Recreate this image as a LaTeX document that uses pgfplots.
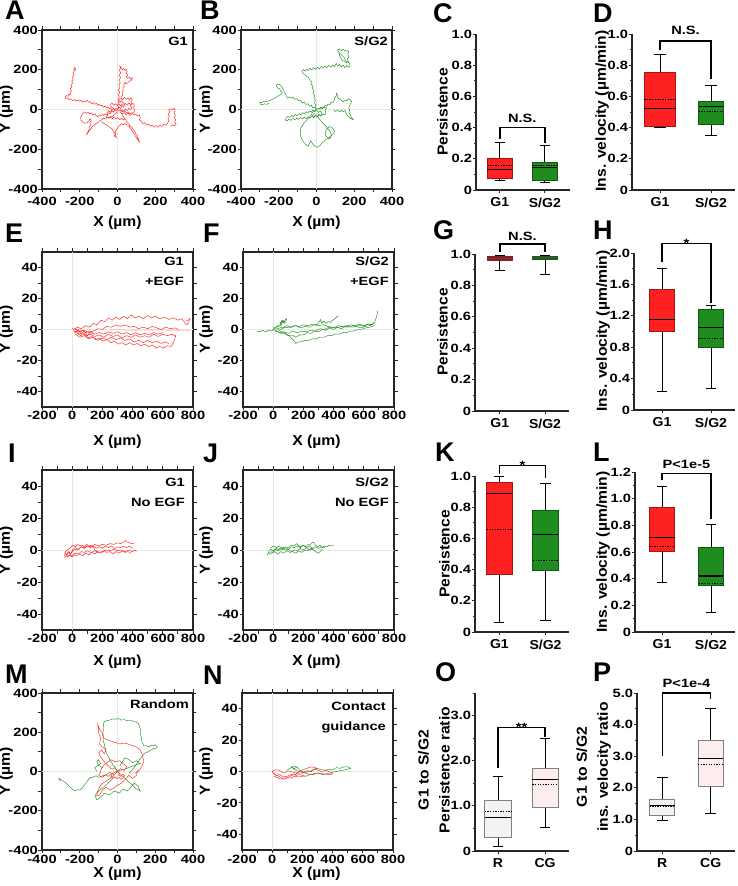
\documentclass[border=0pt]{standalone}
\usepackage{fontspec}
\setmainfont{Liberation Sans}
\newfontfamily\tf[FakeStretch=1.22]{Liberation Sans}
\newfontfamily\lf[FakeStretch=1.08]{Liberation Sans}
\usepackage{pgfplots}
\pgfplotsset{compat=1.18}
\usepgfplotslibrary{statistics}
\definecolor{tr}{HTML}{FF2020}
\definecolor{tg}{HTML}{1E8E1E}
\definecolor{br}{HTML}{FF2020}
\definecolor{brd}{HTML}{A01515}
\definecolor{bg}{HTML}{1E8C1E}
\definecolor{bgd}{HTML}{0E5A0E}
\definecolor{gdr}{HTML}{8E1A1A}
\definecolor{gdg}{HTML}{155E15}
\definecolor{rf}{HTML}{F3F3F3}
\definecolor{cf}{HTML}{FDEDEE}
\definecolor{ob}{HTML}{808080}
\definecolor{ax}{HTML}{262626}
\newcommand\tk{\tf\bfseries\fontsize{12}{13}\selectfont}
\newcommand\lb{\lf\bfseries\fontsize{14.5}{21}\selectfont}
\newcommand\cat{\lf\bfseries\fontsize{13}{14}\selectfont}
\newcommand\an{\tf\bfseries\fontsize{12}{20}\selectfont}
\newcommand\pl{\bfseries\fontsize{27}{28}\selectfont}
\pgfplotsset{
  traj/.style={scale only axis, width=151pt, clip=true,
    axis line style={ax, line width=1.4pt},
    tick align=outside, tick pos=both,
    tick style={ax, line width=0.9pt},
    major tick length=3.5pt, minor tick length=3.5pt,
    xticklabel pos=lower, yticklabel pos=left,
    tick label style={font=\tk},
    yticklabel style={inner sep=0.5pt},
    xticklabel style={inner sep=0pt, anchor=north},
    every axis plot/.append style={line width=0.45pt},
  },
  big/.style={traj, xmin=-400,xmax=400,ymin=-400,ymax=400,
    xtick={-400,-200,0,200,400}, xticklabels={-400,-200,0,200,400},
    minor xtick={-300,-100,100,300},
    ytick={-400,-200,0,200,400}, yticklabels={-400,-200,0,200,400},
    minor ytick={-300,-100,100,300}},
  flat/.style={traj, xmin=-200,xmax=800,ymin=-50,ymax=50,
    xtick={-200,0,200,400,600,800}, xticklabels={-200,0,200,400,600,800},
    minor xtick={-100,100,300,500,700},
    ytick={-40,-20,0,20,40}, yticklabels={-40,-20,0,20,40},
    minor ytick={-30,-10,10,30}},
  bx/.style={scale only axis, clip=false,
    axis x line=bottom, axis y line=left,
    axis line style={ax, line width=1.3pt, -},
    ymin=0, xtick={1,2},
    xtick style={ax, line width=0.9pt},
    ytick style={ax, line width=0.9pt},
    tick align=outside, major tick length=3.5pt, minor tick length=2.2pt,
    xticklabel style={font=\cat, inner sep=0pt, anchor=north, yshift=-4pt},
    yticklabel style={font=\tk, inner sep=0.3pt},
    boxplot/draw direction=y,
    boxplot/every median/.style={black, line width=1.1pt},
    boxplot/every whisker/.style={black, line width=0.9pt},
  },
}
\begin{document}
\begin{tikzpicture}[x=1pt,y=1pt]
\useasboundingbox (0,0) rectangle (737,886);

% ---------------- A ----------------
\begin{axis}[big, at={(42pt,856pt)}, anchor=north west, height=159pt, xticklabel style={yshift=-4pt}]
\addplot[gray!18, line width=0.8pt] coordinates {(-400,0)(400,0)};
\addplot[gray!18, line width=0.8pt] coordinates {(0,-400)(0,400)};
\addplot[tr] coordinates {(0,0) (-8,6) (-14,-3) (-22,5) (-30,-2) (-36,9) (-44,4) (-50,14) (-58,8) (-66,17) (-74,11) (-80,22) (-90,18) (-97,27) (-105,20) (-112,31) (-121,26) (-128,35) (-137,29) (-145,40) (-152,36) (-160,46) (-168,39) (-176,44) (-185,37) (-193,46) (-201,41) (-210,48) (-219,42) (-228,50) (-238,45) (-247,54) (-256,49) (-264,58) (-273,55) (-278,64) (-270,70) (-262,66) (-258,78) (-252,74) (-249,88) (-244,95) (-250,104) (-242,113) (-246,124) (-238,132) (-242,143) (-235,152) (-239,163) (-232,172) (-236,183) (-229,192) (-232,203) (-226,212) (-222,200) (-228,196)};
\addplot[tr] coordinates {(0,0) (-7,-8) (-15,-4) (-22,-14) (-31,-10) (-38,-21) (-47,-17) (-55,-27) (-64,-22) (-72,-30) (-80,-24) (-88,-33) (-97,-27) (-105,-36) (-113,-30) (-121,-22) (-130,-28) (-138,-17) (-147,-23) (-156,-14) (-165,-20) (-174,-12) (-183,-19) (-190,-30) (-196,-42) (-192,-55) (-184,-64) (-173,-70) (-161,-66) (-152,-57) (-145,-46) (-139,-55) (-147,-66) (-142,-78) (-151,-88) (-146,-99) (-155,-108) (-160,-120) (-165,-128) (-156,-117) (-150,-106) (-141,-98) (-133,-86) (-124,-80) (-114,-71) (-104,-66) (-95,-57) (-84,-52) (-75,-44) (-64,-48) (-55,-38) (-44,-43) (-35,-33) (-25,-36) (-16,-25) (-8,-19) (2,-10)};
\addplot[tr] coordinates {(0,0) (9,12) (16,4) (24,19) (33,11) (39,27) (29,34) (21,44) (13,36) (6,47) (18,55) (28,49) (37,60) (46,51) (55,58) (64,47) (71,59) (78,48) (70,37) (77,27) (68,18) (78,9) (70,-1) (60,6) (52,-5) (42,2) (34,-8) (24,-2) (16,-13) (26,-22) (36,-16) (46,-27) (57,-19) (66,-30) (76,-22) (86,-13) (92,-2) (85,10) (90,22) (81,31) (72,24) (61,32) (52,22) (43,30) (34,20) (25,28) (16,19) (7,27) (-3,20) (-12,29) (-21,22) (-29,33) (-37,26) (-33,14) (-23,7) (-14,-2) (-22,-11) (-31,-4) (-40,-14) (-48,-6) (-56,-17) (-51,-28) (-59,-37) (-48,-44) (-38,-37) (-28,-46) (-18,-39) (-8,-48) (2,-41) (12,-52) (22,-44) (32,-53) (40,-43)};
\addplot[tr] coordinates {(0,0) (6,12) (1,24) (8,36) (2,49) (10,61) (4,73) (12,86) (5,98) (13,110) (7,123) (15,136) (8,148) (16,160) (9,172) (17,185) (10,197) (16,208) (12,218) (20,210) (26,199) (33,206) (40,196) (46,203) (51,192) (46,182) (54,174) (47,165) (56,157) (64,163) (71,154) (79,159) (74,148) (64,143) (55,136) (47,128) (40,137) (33,126) (36,114) (28,106) (31,94) (24,85) (27,72) (19,64) (22,52)};
\addplot[tr] coordinates {(0,0) (10,-7) (19,-2) (28,-12) (38,-7) (47,-17) (57,-12) (66,-22) (76,-17) (86,-27) (96,-22) (106,-33) (115,-28) (121,-41) (116,-52) (126,-60) (134,-71) (145,-66) (154,-79) (164,-73) (174,-84) (185,-78) (195,-89) (205,-81) (215,-90) (225,-78) (236,-85) (246,-73) (257,-80) (265,-68) (272,-57) (267,-45) (275,-35) (269,-23) (277,-12) (272,-2) (283,4) (293,-1) (301,6) (306,-6) (299,-17) (307,-28) (301,-40) (309,-52) (303,-64) (311,-74) (300,-82) (290,-77) (281,-86)};
\addplot[tr] coordinates {(20,-20) (28,-31) (35,-43) (44,-52) (50,-64) (60,-71) (66,-83) (77,-90) (83,-102) (92,-110) (97,-122) (106,-130) (103,-142) (112,-149) (109,-158) (116,-163) (104,-147) (96,-135) (88,-121) (79,-109) (70,-96) (61,-85) (51,-77) (41,-70) (31,-77) (21,-71) (11,-82) (2,-91) (-6,-102) (-13,-114) (-9,-125) (-17,-133) (-6,-140) (-14,-123) (-22,-108) (-31,-96) (-42,-89) (-52,-80) (-63,-75) (-74,-69) (-85,-62)};
\node[anchor=north east, align=right, font=\an, inner sep=0pt] at (rel axis cs:1,1) [xshift=-5pt, yshift=-7pt] {G1};
\end{axis}

% ---------------- B ----------------
\begin{axis}[big, at={(241pt,856pt)}, anchor=north west, height=159pt, xticklabel style={yshift=-4pt}]
\addplot[gray!18, line width=0.8pt] coordinates {(-400,0)(400,0)};
\addplot[gray!18, line width=0.8pt] coordinates {(0,-400)(0,400)};
\addplot[tg] coordinates {(0,0) (-7,11) (-2,23) (-11,34) (-6,47) (-14,58) (-9,71) (-18,82) (-13,95) (-23,106) (-19,118) (-30,128) (-26,140) (-37,150) (-42,161) (-53,166) (-61,176) (-72,181) (-77,192) (-68,201) (-61,193) (-52,204) (-43,197) (-34,207) (-25,199) (-15,210) (-5,202) (5,213) (15,205) (25,216) (35,208) (45,219) (55,210) (65,221) (75,213) (86,224) (96,215) (104,232) (112,220) (123,227) (131,214) (141,223) (150,211) (160,221) (169,213) (178,219) (174,233) (163,240) (152,248) (146,262) (136,271) (127,280) (118,288) (112,299) (122,304) (132,296) (141,303) (151,294) (160,299) (170,290) (166,277) (172,264) (163,253) (170,243) (158,236) (146,242) (134,250) (127,262) (121,274) (126,286)};
\addplot[tg] coordinates {(0,0) (-9,12) (-19,8) (-27,21) (-37,16) (-46,29) (-56,25) (-65,38) (-75,33) (-84,46) (-95,42) (-104,55) (-114,51) (-124,62) (-134,57) (-144,64) (-152,56) (-160,68) (-166,80) (-172,92) (-177,104) (-185,114) (-192,124) (-203,127) (-213,121) (-208,110) (-197,104) (-188,94) (-181,83) (-190,74) (-201,70) (-212,62) (-224,57) (-235,51) (-246,45) (-257,43) (-268,39) (-279,41) (-290,35) (-301,37) (-298,27) (-287,24) (-275,29) (-263,26) (-252,31)};
\addplot[tg] coordinates {(0,0) (10,6) (19,2) (28,13) (37,9) (45,21) (54,16) (61,28) (70,24) (77,36) (86,33) (93,46) (98,58) (104,70) (107,82) (111,69) (114,57) (124,53) (133,45) (142,38) (151,47) (161,44) (170,54) (178,48) (186,41) (181,30) (176,19) (171,8) (176,-3) (172,-14) (179,-25) (183,-36) (190,-45) (196,-52) (185,-47) (173,-40) (164,-29) (156,-17) (150,-5) (141,-11) (131,-4) (122,-12) (112,-3) (102,-10) (92,-3)};
\addplot[tg] coordinates {(0,0) (-8,-11) (-16,-7) (-24,-20) (-31,-30) (-40,-42) (-50,-50) (-58,-61) (-68,-70) (-75,-82) (-83,-93) (-86,-106) (-82,-118) (-86,-131) (-79,-143) (-75,-156) (-66,-167) (-55,-177) (-45,-185) (-38,-171) (-31,-157) (-25,-166) (-17,-178) (-6,-186) (5,-190) (17,-183) (26,-172) (37,-163) (47,-153) (58,-146) (70,-139) (81,-130) (91,-121) (96,-110) (89,-99) (80,-90) (69,-86) (59,-94) (50,-104) (46,-117) (49,-130) (57,-142) (67,-149) (75,-139) (78,-127) (74,-114) (66,-103) (56,-92) (47,-81) (37,-72) (28,-63) (20,-53) (11,-44) (3,-33)};
\addplot[tg] coordinates {(0,0) (-9,-9) (-18,-3) (-27,-13) (-37,-7) (-46,-17) (-55,-11) (-64,-22) (-74,-16) (-83,-27) (-93,-21) (-103,-31) (-113,-25) (-122,-36) (-132,-30) (-142,-40) (-152,-34) (-161,-44) (-166,-53) (-155,-57) (-145,-48) (-135,-55) (-125,-45) (-115,-52) (-105,-43) (-95,-50) (-85,-40) (-75,-48) (-65,-38) (-55,-46) (-45,-36) (-35,-44) (-25,-33) (-15,-41) (-5,-30) (5,-37) (15,-27) (25,-34) (35,-22) (44,-28) (50,-16) (45,-5) (52,6) (42,12) (32,4) (22,11) (12,2)};
\addplot[tg] coordinates {(0,0) (10,-15) (20,-8) (30,-20) (22,-30) (12,-25) (5,-38) (-5,-28) (-15,-42) (-22,-30) (-10,-20)};
\node[anchor=north east, align=right, font=\an, inner sep=0pt] at (rel axis cs:1,1) [xshift=-4pt, yshift=-7pt] {S/G2};
\end{axis}

% ---------------- E ----------------
\begin{axis}[flat, at={(42pt,634pt)}, anchor=north west, height=155pt, xticklabel style={yshift=0pt}]
\addplot[gray!18, line width=0.8pt] coordinates {(-200,0)(800,0)};
\addplot[gray!18, line width=0.8pt] coordinates {(0,-50)(0,50)};
\addplot[tr!35, line width=0.6pt] coordinates {(250,0) (400,-0.5) (550,-0.3) (700,-0.6) (780,-0.5)};
\addplot[tr] coordinates {(10,0)(35,1.5)(60,0.5)(90,2.5)(115,1.5)(140,4)(165,3)(190,6)(215,5)(240,7.5)(265,6)(290,8)(315,6.5)(340,8.5)(365,7)(390,9.5)(415,7.5)(440,8.5)(470,7)(500,9)(525,7.5)(550,8.5)(580,7)(610,8)(640,6.5)(670,7.5)(700,6)(725,7)(745,4.5)(760,3)(772,4.5)(778,7)(768,6)(752,5.5)};
\addplot[tr] coordinates {(20,0)(50,-1.5)(80,-0.5)(110,-2)(140,-1)(170,0.5)(200,0)(230,2)(260,1.5)(290,3)(320,2)(350,3)(380,1.5)(410,2)(440,0.5)(470,1.5)(500,0.5)(530,2)(560,1)(590,0)(620,1.5)(650,0.5)(680,1)(705,0)};
\addplot[tr] coordinates {(20,-1)(45,-3)(70,-2)(95,-4)(120,-3)(150,-4.5)(180,-3.5)(210,-5)(240,-3)(270,-4.5)(300,-3.5)(330,-5.5)(360,-4)(390,-5)(420,-3.5)(450,-5)(480,-4)(510,-5)(540,-3)(570,-4.5)(600,-3)(630,-4)(660,-3)(685,-4.5)};
\addplot[tr] coordinates {(30,-2)(55,-4)(80,-3)(105,-5.5)(130,-4.5)(155,-6.5)(180,-5.5)(205,-7.5)(230,-6.5)(255,-8.5)(280,-7.5)(305,-9.5)(330,-8.5)(355,-10)(380,-8.5)(405,-10)(430,-9)(455,-10.5)(480,-9.5)(505,-11)(530,-10)(555,-12)(580,-11)(605,-12)(630,-10.5)(655,-11)(670,-8.5)(680,-6)(686,-3.5)};
\addplot[tr] coordinates {(20,-3)(50,-5)(80,-4)(110,-6)(140,-5)(170,-7)(200,-5.5)(230,-6.5)(260,-5)(290,-6.5)(320,-5.5)(350,-7)(380,-6)(410,-8)(440,-7)(470,-8.5)(500,-7)(530,-8.5)(560,-7.5)(590,-9)(615,-8)(640,-9)};
\addplot[tr] coordinates {(15,1)(40,-1.5)(65,-0.5)(90,-2)(120,-1)(150,-3)(180,-2)(210,-3)(240,-1.5)(270,-2.5)(300,-1.5)(330,-3)(360,-2)(390,-3.5)(420,-2)(450,-3.5)(480,-2.5)(510,-3.5)(540,-2)(570,-3)(600,-2)};
\addplot[tr] coordinates {(0,1)(20,-2)(40,0)(60,-3)(80,-1)(100,-4)(120,-2)(140,-3)};
\node[anchor=north east, align=right, font=\an, inner sep=0pt] at (rel axis cs:1,1) [xshift=-9pt, yshift=-5pt] {G1\\+EGF};
\end{axis}

% ---------------- F ----------------
\begin{axis}[flat, at={(243pt,634pt)}, anchor=north west, height=155pt, xticklabel style={yshift=0pt}]
\addplot[gray!18, line width=0.8pt] coordinates {(-200,0)(800,0)};
\addplot[gray!18, line width=0.8pt] coordinates {(0,-50)(0,50)};
\addplot[tg] coordinates {(-110,-1)(-90,-1.5)(-70,-0.5)(-50,-1.5)(-30,-0.5)(-10,-1)(5,0.5)(20,1)(35,3)(48,2.5)(58,5)(70,4.5)(80,6.5)(88,7)(84,5)(74,4)(64,5.5)(54,3)(44,4)(60,6)(76,5)};
\addplot[tg] coordinates {(0,0)(25,-1)(50,-2.5)(75,-2)(100,-4)(125,-3.5)(150,-5)(175,-3.5)(200,-3.5)(225,-2)(250,-2.5)(275,-1)(300,-1.5)(325,0)(350,-0.5)(375,1)(400,0)(425,1.5)(450,0.5)(475,2)(500,1.5)(525,2.5)(550,2)(575,3)(600,2)(625,3.5)(650,3)(670,4.5)(680,7)(688,9.5)(692,12)};
\addplot[tg] coordinates {(20,1)(50,0)(80,1.5)(110,1)(140,2.5)(170,2)(200,3)(230,2.5)(260,3.5)(290,3)(305,5)(315,6.5)(320,4)(335,5.5)(350,4)(365,5)(380,4.5)(395,6)(410,7)(420,8)(432,9)};
\addplot[tg] coordinates {(30,0)(55,-1.5)(80,-3)(105,-4)(125,-6)(140,-7.5)(150,-9)(165,-8)(185,-8)(210,-7)(235,-7)(260,-6)(285,-6)(310,-5)(335,-5)(360,-4)(385,-4)(410,-3)(435,-3)(460,-2)(485,-2)(510,-1)(535,-1)(560,0)(585,0)(610,1)(640,1.5)(670,2.5)};
\addplot[tg] coordinates {(0,1)(30,2)(60,1)(90,2.5)(120,1.5)(150,2.5)(180,1)(210,2)(240,1.5)(270,3)(300,2.5)(330,3)(360,2)(390,1.5)(420,1)(450,2)(480,1.5)(510,3)(540,2.5)(570,3.5)(600,2.5)(630,3.5)(660,3)};
\addplot[tg] coordinates {(10,-1)(40,-2)(70,-1.5)(100,-2.5)(130,-1)(160,-2)(190,-1)(220,-1.5)(250,-0.5)(280,-1)(310,0.5)(340,0)(370,1.5)(400,1)(430,2.5)(460,2)(490,2.5)(520,1.5)(550,2)(580,1)(610,2)(640,2.5)(670,4)};
\node[anchor=north east, align=right, font=\an, inner sep=0pt] at (rel axis cs:1,1) [xshift=-5pt, yshift=-5pt] {S/G2\\+EGF};
\end{axis}

% ---------------- I ----------------
\begin{axis}[flat, at={(42pt,416pt)}, anchor=north west, height=160pt, xticklabel style={yshift=0pt}]
\addplot[gray!18, line width=0.8pt] coordinates {(-200,0)(800,0)};
\addplot[gray!18, line width=0.8pt] coordinates {(0,-50)(0,50)};
\addplot[tr] coordinates {(-55,-4)(-45,-2)(-35,-3.5)(-25,-1.5)(-10,-2.5)(5,-0.5)(20,0.5)(40,0)(60,2)(80,1.5)(100,2.5)(125,2)(150,3.5)(175,2.5)(200,3.5)(225,3)(250,4)(275,3.5)(300,4.5)(320,4)(340,5)(355,6)(365,5)(380,4.5)(395,4)(410,4.5)};
\addplot[tr] coordinates {(-50,-5)(-40,-3.5)(-30,-4.5)(-15,-3)(0,-3.5)(20,-2)(40,-2.5)(60,-1)(80,-1.5)(100,-0.5)(125,-1.5)(150,-0.5)(175,-1.5)(200,-1)(225,0)(250,-0.5)(275,0.5)(300,-0.5)(325,0)(350,-1)(375,0)(400,-1)(415,0)(425,-1)};
\addplot[tr] coordinates {(-40,-3)(-25,-1)(-10,-2.5)(5,0.5)(20,1.5)(40,0.5)(60,2)(80,1)(100,2.5)(120,1.5)(140,2.5)(160,1)(180,2)(200,1)(220,2.5)(240,1.5)(260,2.5)(280,1)(300,2)(320,1.5)(340,2.5)(360,1.5)(380,2.5)(400,1)};
\addplot[tr] coordinates {(-30,-4)(-15,-3)(0,-4.5)(15,-3)(30,-3.5)(50,-2.5)(70,-3.5)(90,-2)(110,-3)(130,-1.5)(150,-2.5)(170,-1)(190,-2)(210,-0.5)(230,-1.5)(250,-1)(270,-2.5)(290,-1)(310,-2)(330,-0.5)(350,-1.5)(370,-1)(390,-2)};
\addplot[tr] coordinates {(-50,-2)(-40,-0.5)(-25,0.5)(-10,1.5)(5,3)(20,2)(35,3.5)(50,2.5)(65,3)(80,2)(95,3.5)(110,2.5)(125,3)(140,1.5)(150,0)(160,-0.5)(170,-1.5)};
\node[anchor=north east, align=right, font=\an, inner sep=0pt] at (rel axis cs:1,1) [xshift=-8pt, yshift=-8pt] {G1\\No EGF};
\end{axis}

% ---------------- J ----------------
\begin{axis}[flat, at={(243pt,416pt)}, anchor=north west, height=160pt, xticklabel style={yshift=0pt}]
\addplot[gray!18, line width=0.8pt] coordinates {(-200,0)(800,0)};
\addplot[gray!18, line width=0.8pt] coordinates {(0,-50)(0,50)};
\addplot[tg] coordinates {(-40,-3)(-30,-1.5)(-20,-2.5)(-10,-1)(0,-1.5)(15,0.5)(30,-0.5)(45,1)(60,0)(80,1.5)(100,0.5)(120,2)(140,1.5)(160,2.5)(180,1.5)(200,3)(215,2)(230,3.5)(245,3)(255,4.5)(265,5)(272,4)(280,3)(295,2)(310,3)(325,1.5)(340,2.5)(355,2)(370,3)(385,2.5)(400,3)};
\addplot[tg] coordinates {(-30,-1)(-15,0.5)(0,-0.5)(20,1)(40,0)(60,1.5)(80,0)(100,0.5)(120,-1)(140,0)(160,-0.5)(180,1)(200,0)(220,1.5)(240,0)(260,0.5)(280,-1)(300,-2)(315,-0.5)(325,0.5)};
\addplot[tg] coordinates {(-20,1)(0,2.5)(20,1.5)(40,2.5)(60,1)(80,2)(100,1.5)(120,3)(140,2.5)(155,4)(165,3)(180,2)(200,3)(220,1.5)(240,2.5)(260,1)(280,2)(300,1)(320,2)(340,1.5)};
\addplot[tg] coordinates {(-10,-2)(10,-1)(30,-2.5)(50,-1)(70,-2)(90,-0.5)(110,-1.5)(130,-1)(150,-2)(170,-0.5)(190,-1.5)(210,0)(230,-0.5)(250,1)(270,0.5)};
\node[anchor=north east, align=right, font=\an, inner sep=0pt] at (rel axis cs:1,1) [xshift=-5pt, yshift=-8pt] {S/G2\\No EGF};
\end{axis}

% ---------------- M ----------------
\begin{axis}[big, at={(42pt,193pt)}, anchor=north west, height=157pt, xticklabel style={yshift=-1pt}]
\addplot[gray!18, line width=0.8pt] coordinates {(-400,0)(400,0)};
\addplot[gray!18, line width=0.8pt] coordinates {(0,-400)(0,400)};
\addplot[tg] coordinates {(0,0) (-8,12) (-15,25) (-24,34) (-30,45) (-40,57) (-45,70) (-55,84) (-60,100) (-66,120) (-70,140) (-77,160) (-75,180) (-78,200) (-72,220) (-75,240) (-70,255) (-55,260) (-40,262) (-25,268) (-10,266) (5,270) (20,262) (35,264) (50,260) (68,262) (85,255) (98,252) (110,245) (116,230) (122,215) (120,198) (125,180) (128,165) (130,150) (136,138) (140,130) (152,132) (165,125) (178,134) (190,130) (200,136) (210,128) (205,118) (200,115) (190,118) (180,110) (170,104) (160,100) (150,96) (140,90) (132,80) (125,70) (117,60) (110,50) (102,40) (95,30) (88,20) (80,10) (70,0) (60,-10)};
\addplot[tg] coordinates {(0,0) (-12,-3) (-25,-10) (-37,-16) (-50,-25) (-62,-18) (-75,-20) (-88,-26) (-100,-30) (-112,-22) (-125,-25) (-135,-33) (-145,-30) (-153,-40) (-160,-50) (-168,-58) (-175,-70) (-188,-84) (-200,-95) (-212,-92) (-225,-100) (-238,-90) (-250,-80) (-260,-72) (-270,-60) (-280,-55) (-290,-45) (-300,-42) (-310,-35) (-305,-45) (-300,-50)};
\addplot[tg] coordinates {(0,0) (10,-12) (20,-20) (30,-26) (40,-35) (50,-44) (60,-55) (70,-60) (80,-70) (90,-80) (100,-90) (110,-92) (120,-100) (115,-88) (110,-75) (100,-68) (90,-60) (80,-70) (70,-80) (60,-92) (50,-100) (40,-94) (30,-90) (20,-100) (10,-110) (-5,-104) (-20,-100) (-32,-112) (-45,-120) (-58,-114) (-70,-110) (-80,-122) (-90,-130) (-100,-138) (-110,-145) (-115,-132) (-120,-120) (-110,-110) (-100,-100) (-90,-92) (-80,-85) (-70,-76) (-60,-70) (-50,-58) (-40,-50) (-30,-40) (-20,-30)};
\addplot[tg] coordinates {(0,0) (15,6) (30,10) (45,14) (60,20) (75,26) (90,30) (105,36) (120,40) (110,48) (100,55) (90,50) (80,45) (70,54) (60,60) (50,66) (40,70) (30,55) (20,40) (12,28)};
\addplot[tg] coordinates {(-80,20) (-90,26) (-100,30) (-105,40) (-110,50) (-105,56) (-100,60) (-95,50) (-90,40) (-105,30) (-120,20) (-115,10) (-110,0)};
\addplot[tr] coordinates {(0,0) (-8,12) (-15,20) (-25,13) (-35,15) (-45,26) (-55,35) (-65,44) (-75,55) (-82,66) (-90,75) (-95,85) (-100,95) (-92,103) (-85,110) (-78,100) (-70,90) (-65,100) (-60,110) (-70,118) (-80,125) (-88,132) (-95,140) (-92,155) (-90,170) (-96,185) (-100,200) (-102,220) (-105,240) (-100,228) (-95,215) (-88,205) (-80,195) (-78,182) (-75,170) (-62,165) (-50,160) (-35,155) (-20,150) (-5,146) (10,140) (25,143) (40,145) (55,140) (70,135) (85,130) (100,125) (110,118) (120,110) (125,100) (130,90) (135,70) (140,50) (132,35) (125,20) (118,10) (110,0) (100,-5) (90,-10)};
\addplot[tr] coordinates {(0,0) (-10,-10) (-20,-20) (-30,-27) (-40,-35) (-50,-42) (-60,-50) (-70,-55) (-80,-60) (-88,-70) (-95,-80) (-100,-90) (-105,-100) (-108,-112) (-110,-125) (-102,-122) (-95,-120) (-88,-108) (-80,-95) (-70,-88) (-60,-80) (-50,-88) (-40,-95) (-30,-90) (-20,-85) (-10,-78) (0,-70) (10,-65) (20,-60) (30,-50) (40,-40) (50,-30) (60,-20) (70,-28) (80,-35) (90,-28) (100,-20) (105,-5) (110,10)};
\addplot[tr] coordinates {(0,0) (8,8) (15,15) (25,10) (35,5) (42,15) (50,25) (40,32) (30,40) (20,48) (10,55) (-2,52) (-15,50) (-25,56) (-35,60) (-45,52) (-55,45) (-62,40) (-70,35) (-78,25) (-85,15) (-88,5) (-90,-5) (-95,-12) (-100,-20) (-90,-25) (-80,-30) (-70,-22) (-60,-15) (-50,-10) (-40,-5) (-30,-10) (-20,-15)};
\addplot[tr] coordinates {(0,0) (12,-8) (5,-18) (18,-25) (28,-15) (38,-22) (30,-32) (18,-40) (8,-30) (-5,-36) (-15,-26) (-25,-35) (-35,-25) (-28,-12) (-15,-5)};
\node[anchor=north east, align=right, font=\an, inner sep=0pt] at (rel axis cs:1,1) [xshift=-4pt, yshift=-7pt] {Random};
\end{axis}

% ---------------- N ----------------
\begin{axis}[flat, at={(242pt,193pt)}, anchor=north west, height=157pt, xticklabel style={yshift=-1pt}]
\addplot[gray!18, line width=0.8pt] coordinates {(-200,0)(800,0)};
\addplot[gray!18, line width=0.8pt] coordinates {(0,-50)(0,50)};
\addplot[tg] coordinates {(100,1)(125,2.5)(150,2)(165,3)(180,1)(200,0)(220,-1)(240,0.5)(260,0)(280,1.5)(300,1)(325,0)(350,0.5)(375,1.5)(400,1)(425,2.5)(450,2)(475,3)(500,3)(512,2.5)(520,2)(500,1.5)(480,1)(450,0.5)(420,0)(400,-0.5)(380,-1)(355,-1.5)(330,-2)(305,-1)(280,-1)(265,-2)(250,-2)(235,-1.5)(220,-1)(200,-0.5)(180,0)(165,0.5)(150,1)(140,2)(130,3)(145,3.5)(160,3)};
\addplot[tr] coordinates {(5,-1)(25,-2.5)(50,-2)(75,-3.5)(100,-3)(125,-2)(150,-2)(175,-1)(200,-1)(225,0.5)(250,0)(275,1.5)(300,2)(325,1)(350,1)(375,0)(400,-1)(390,-2)(380,-2)(340,-1.5)(300,-1)(275,-2)(250,-2)(225,-3)(200,-3)(175,-3.5)(150,-3)(125,-4)(100,-4)(80,-5)(60,-4)(40,-3)(20,-2)(0,0)(20,1)(40,1)(60,0)(80,-1)(100,0.5)(120,0)(140,-0.5)(160,-1)(180,0)(200,1)(230,2)(260,3)(280,2.5)(300,2)};
\addplot[tr] coordinates {(10,-3)(35,-4)(60,-5)(80,-4)(100,-4)(120,-3)(140,-2)(160,-2.5)(180,-2)(200,-2.5)(220,-3)};
\node[anchor=north east, align=right, font=\an, inner sep=0pt] at (rel axis cs:1,1) [xshift=-7pt, yshift=-9pt] {Contact\\guidance};
\end{axis}

% ---------------- C ----------------
\begin{axis}[bx, at={(476pt,852pt)}, anchor=north west, width=94pt, height=156pt,
  xmin=0.47, xmax=2.56, ymax=1, xticklabels={G1,S/G2},
  ytick={0,0.2,0.4,0.6,0.8,1}, yticklabels={0,0.2,0.4,0.6,0.8,1.0},
  minor ytick={0.1,0.3,0.5,0.7,0.9}]
\addplot[boxplot prepared={draw position=1, lower whisker=0.064, lower quartile=0.075, median=0.13, upper quartile=0.20, upper whisker=0.305, box extend=0.55, whisker extend=0.22}, boxplot/every box/.style={fill=br, draw=brd, line width=0.8pt}] coordinates {};
\addplot[boxplot prepared={draw position=2, lower whisker=0.05, lower quartile=0.06, median=0.143, upper quartile=0.175, upper whisker=0.284, box extend=0.55, whisker extend=0.22}, boxplot/every box/.style={fill=bg, draw=bgd, line width=0.8pt}] coordinates {};
\addplot[black, line width=1pt, dash pattern=on 1.3pt off 1.3pt] coordinates {(0.73,0.156) (1.27,0.156)};
\addplot[black, line width=1pt, dash pattern=on 1.3pt off 1.3pt] coordinates {(1.73,0.156) (2.27,0.156)};
\addplot[black, line width=1.4pt] coordinates {(1,0.33) (1,0.40) (2,0.40) (2,0.30)};
\node[font=\an, anchor=south, inner sep=0pt, yshift=5pt] at (axis cs:1.5,0.40) {N.S.};
\end{axis}

% ---------------- D ----------------
\begin{axis}[bx, at={(632pt,852pt)}, anchor=north west, width=103pt, height=156pt,
  xmin=0.45, xmax=2.47, ymax=1, xticklabels={G1,S/G2},
  ytick={0,0.2,0.4,0.6,0.8,1}, yticklabels={0,0.2,0.4,0.6,0.8,1.0},
  minor ytick={0.1,0.3,0.5,0.7,0.9}]
\addplot[boxplot prepared={draw position=1, lower whisker=0.40, lower quartile=0.41, median=0.52, upper quartile=0.755, upper whisker=0.866, box extend=0.62, whisker extend=0.22}, boxplot/every box/.style={fill=br, draw=brd, line width=0.8pt}] coordinates {};
\addplot[boxplot prepared={draw position=2, lower whisker=0.35, lower quartile=0.42, median=0.535, upper quartile=0.57, upper whisker=0.667, box extend=0.48, whisker extend=0.22}, boxplot/every box/.style={fill=bg, draw=bgd, line width=0.8pt}] coordinates {};
\addplot[black, line width=1pt, dash pattern=on 1.3pt off 1.3pt] coordinates {(0.69,0.58) (1.31,0.58)};
\addplot[black, line width=1pt, dash pattern=on 1.3pt off 1.3pt] coordinates {(1.76,0.50) (2.24,0.50)};
\addplot[black, line width=1.4pt] coordinates {(1,0.90) (1,0.955) (2,0.955) (2,0.71)};
\node[font=\an, anchor=south, inner sep=0pt, yshift=6pt] at (axis cs:1.5,0.955) {N.S.};
\end{axis}

% ---------------- G ----------------
\begin{axis}[bx, at={(475pt,632pt)}, anchor=north west, width=94pt, height=157pt,
  xmin=0.45, xmax=2.53, ymax=1, xticklabels={G1,S/G2},
  ytick={0,0.2,0.4,0.6,0.8,1}, yticklabels={0,0.2,0.4,0.6,0.8,1.0},
  minor ytick={0.1,0.3,0.5,0.7,0.9}]
\addplot[boxplot prepared={draw position=1, lower whisker=0.898, lower quartile=0.962, median=0.975, upper quartile=0.985, upper whisker=0.993, box extend=0.55, whisker extend=0.22}, boxplot/every box/.style={fill=gdr, draw=gdr, line width=0.9pt}, boxplot/every median/.style={black!70, line width=0.8pt}] coordinates {};
\addplot[boxplot prepared={draw position=2, lower whisker=0.868, lower quartile=0.966, median=0.978, upper quartile=0.987, upper whisker=0.993, box extend=0.55, whisker extend=0.22}, boxplot/every box/.style={fill=gdg, draw=gdg, line width=0.9pt}, boxplot/every median/.style={black!70, line width=0.8pt}] coordinates {};
\addplot[black, line width=1.4pt] coordinates {(1,1.01) (1,1.064) (2,1.064) (2,1.01)};
\node[font=\an, anchor=south, inner sep=0pt, yshift=3pt] at (axis cs:1.5,1.064) {N.S.};
\end{axis}

% ---------------- H ----------------
\begin{axis}[bx, at={(634pt,633pt)}, anchor=north west, width=101pt, height=157pt,
  xmin=0.43, xmax=2.49, ymax=2, xticklabels={G1,S/G2},
  ytick={0,0.4,0.8,1.2,1.6,2}, yticklabels={0,0.4,0.8,1.2,1.6,2.0},
  minor ytick={0.2,0.6,1.0,1.4,1.8}]
\addplot[boxplot prepared={draw position=1, lower whisker=0.23, lower quartile=1.0, median=1.153, upper quartile=1.54, upper whisker=1.80, box extend=0.52, whisker extend=0.22}, boxplot/every box/.style={fill=br, draw=brd, line width=0.8pt}] coordinates {};
\addplot[boxplot prepared={draw position=2, lower whisker=0.275, lower quartile=0.80, median=1.05, upper quartile=1.28, upper whisker=1.33, box extend=0.50, whisker extend=0.22}, boxplot/every box/.style={fill=bg, draw=bgd, line width=0.8pt}] coordinates {};
\addplot[black, line width=1pt, dash pattern=on 1.3pt off 1.3pt] coordinates {(0.74,1.15) (1.26,1.15)};
\addplot[black, line width=1pt, dash pattern=on 1.3pt off 1.3pt] coordinates {(1.75,0.91) (2.25,0.91)};
\addplot[black, line width=1.4pt] coordinates {(1,1.89) (1,2.12) (2,2.12) (2,1.36)};
\node[font=\an, anchor=base, inner sep=0pt, yshift=-4pt] at (axis cs:1.5,2.12) {*};
\end{axis}

% ---------------- K ----------------
\begin{axis}[bx, at={(475pt,410pt)}, anchor=north west, width=94pt, height=156pt,
  xmin=0.47, xmax=2.51, ymax=1, xticklabels={G1,S/G2},
  ytick={0,0.2,0.4,0.6,0.8,1}, yticklabels={0,0.2,0.4,0.6,0.8,1.0},
  minor ytick={0.1,0.3,0.5,0.7,0.9}]
\addplot[boxplot prepared={draw position=1, lower whisker=0.058, lower quartile=0.37, median=0.89, upper quartile=0.96, upper whisker=0.994, box extend=0.55, whisker extend=0.22}, boxplot/every box/.style={fill=br, draw=brd, line width=0.8pt}] coordinates {};
\addplot[boxplot prepared={draw position=2, lower whisker=0.075, lower quartile=0.393, median=0.624, upper quartile=0.78, upper whisker=0.955, box extend=0.55, whisker extend=0.22}, boxplot/every box/.style={fill=bg, draw=bgd, line width=0.8pt}] coordinates {};
\addplot[black, line width=1pt, dash pattern=on 1.3pt off 1.3pt] coordinates {(0.73,0.66) (1.27,0.66)};
\addplot[black, line width=1pt, dash pattern=on 1.3pt off 1.3pt] coordinates {(1.73,0.46) (2.27,0.46)};
\addplot[black, line width=1.4pt] coordinates {(1,1.015) (1,1.068) (2,1.068) (2,0.99)};
\node[font=\an, anchor=base, inner sep=0pt, yshift=-4pt] at (axis cs:1.5,1.068) {*};
\end{axis}

% ---------------- L ----------------
\begin{axis}[bx, at={(635pt,414pt)}, anchor=north west, width=100pt, height=160pt,
  xmin=0.45, xmax=2.49, ymax=1.2, xticklabels={G1,S/G2},
  ytick={0,0.2,0.4,0.6,0.8,1,1.2}, yticklabels={0,0.2,0.4,0.6,0.8,1.0,1.2},
  minor ytick={0.1,0.3,0.5,0.7,0.9,1.1}]
\addplot[boxplot prepared={draw position=1, lower whisker=0.37, lower quartile=0.605, median=0.708, upper quartile=0.933, upper whisker=1.09, box extend=0.52, whisker extend=0.22}, boxplot/every box/.style={fill=br, draw=brd, line width=0.8pt}] coordinates {};
\addplot[boxplot prepared={draw position=2, lower whisker=0.15, lower quartile=0.35, median=0.42, upper quartile=0.638, upper whisker=0.808, box extend=0.50, whisker extend=0.22}, boxplot/every box/.style={fill=bg, draw=bgd, line width=0.8pt}] coordinates {};
\addplot[black, line width=1pt, dash pattern=on 1.3pt off 1.3pt] coordinates {(0.74,0.638) (1.26,0.638)};
\addplot[black, line width=1pt, dash pattern=on 1.3pt off 1.3pt] coordinates {(1.75,0.363) (2.25,0.363)};
\addplot[black, line width=1.4pt] coordinates {(1,1.138) (1,1.188) (2,1.188) (2,0.85)};
\node[font=\an, anchor=south, inner sep=0pt, yshift=5pt] at (axis cs:1.5,1.188) {P<1e-5};
\end{axis}

% ---------------- O ----------------
\begin{axis}[bx, at={(475pt,193pt)}, anchor=north west, width=94pt, height=158pt,
  xmin=0.51, xmax=2.51, ymax=3.5, xticklabels={R,CG},
  ytick={0,1,2,3}, yticklabels={0,1.0,2.0,3.0},
  minor ytick={0.5,1.5,2.5,3.5}]
\addplot[boxplot prepared={draw position=1, lower whisker=0.11, lower quartile=0.30, median=0.74, upper quartile=1.13, upper whisker=1.65, box extend=0.57, whisker extend=0.22}, boxplot/every box/.style={fill=rf, draw=ob, line width=0.8pt}] coordinates {};
\addplot[boxplot prepared={draw position=2, lower whisker=0.53, lower quartile=0.96, median=1.59, upper quartile=1.84, upper whisker=2.50, box extend=0.55, whisker extend=0.22}, boxplot/every box/.style={fill=cf, draw=ob, line width=0.8pt}] coordinates {};
\addplot[black, line width=1pt, dash pattern=on 1.3pt off 1.3pt] coordinates {(0.72,0.875) (1.28,0.875)};
\addplot[black, line width=1pt, dash pattern=on 1.3pt off 1.3pt] coordinates {(1.73,1.47) (2.27,1.47)};
\addplot[black, line width=1.4pt] coordinates {(1,1.84) (1,2.74) (2,2.74) (2,2.53)};
\node[font=\an, anchor=base, inner sep=0pt, yshift=-4pt] at (axis cs:1.5,2.74) {**};
\end{axis}

% ---------------- P ----------------
\begin{axis}[bx, at={(637pt,193pt)}, anchor=north west, width=98pt, height=158pt,
  xmin=0.48, xmax=2.5, ymax=5, xticklabels={R,CG},
  ytick={0,1,2,3,4,5}, yticklabels={0,1.0,2.0,3.0,4.0,5.0},
  minor ytick={0.5,1.5,2.5,3.5,4.5}]
\addplot[boxplot prepared={draw position=1, lower whisker=0.98, lower quartile=1.12, median=1.45, upper quartile=1.64, upper whisker=2.33, box extend=0.52, whisker extend=0.22}, boxplot/every box/.style={fill=rf, draw=ob, line width=0.8pt}] coordinates {};
\addplot[boxplot prepared={draw position=2, lower whisker=1.20, lower quartile=2.04, median=2.92, upper quartile=3.50, upper whisker=4.50, box extend=0.52, whisker extend=0.22}, boxplot/every box/.style={fill=cf, draw=ob, line width=0.8pt}] coordinates {};
\addplot[black, line width=1pt, dash pattern=on 1.3pt off 1.3pt] coordinates {(0.74,1.40) (1.26,1.40)};
\addplot[black, line width=1pt, dash pattern=on 1.3pt off 1.3pt] coordinates {(1.74,2.75) (2.26,2.75)};
\addplot[black, line width=1.4pt] coordinates {(1,3.0) (1,5.0) (2,5.0) (2,4.8)};
\node[font=\an, anchor=south, inner sep=0pt, yshift=5pt] at (axis cs:1.5,5.0) {P<1e-4};
\end{axis}

% ---------------- axis labels ----------------
\foreach \xx in {117.5,316.5} {
  \node[font=\lb, anchor=north, inner sep=0pt] at (\xx,670) {X (µm)};
  \node[font=\lb, anchor=north, inner sep=0pt] at (\xx,451) {X (µm)};
  \node[font=\lb, anchor=north, inner sep=0pt] at (\xx,231) {X (µm)};
  \node[font=\lb, anchor=north, inner sep=0pt] at (\xx,19) {X (µm)};
}
\foreach \yy in {776.5,556.5,336,114.5} {
  \node[font=\lb, rotate=90, anchor=south, inner sep=0pt] at (13,\yy) {Y (µm)};
  \node[font=\lb, rotate=90, anchor=south, inner sep=0pt] at (213,\yy) {Y (µm)};
}
\node[font=\lb, rotate=90, anchor=south, inner sep=0pt] at (448,774) {Persistence};
\node[font=\lb, rotate=90, anchor=south, inner sep=0pt] at (448,554) {Persistence};
\node[font=\lb, rotate=90, anchor=south, inner sep=0pt] at (450,332) {Persistence};
\node[font=\lb, rotate=90, anchor=south, inner sep=0pt] at (609,775) {Ins. velocity (µm/min)};
\node[font=\lb, rotate=90, anchor=south, inner sep=0pt] at (610,555) {Ins. velocity (µm/min)};
\node[font=\lb, rotate=90, anchor=south, inner sep=0pt] at (610,334) {Ins. velocity (µm/min)};
\node[font=\lb, rotate=90, anchor=south, inner sep=0pt, align=center] at (450,116) {G1 to S/G2\\Persistence ratio};
\node[font=\lb, rotate=90, anchor=south, inner sep=0pt, align=center] at (611,119) {G1 to S/G2\\ins. velocity ratio};

% ---------------- panel letters ----------------
\node[font=\pl, anchor=base west, inner sep=0pt] at (5,866) {A};
\node[font=\pl, anchor=base west, inner sep=0pt] at (200,866) {B};
\node[font=\pl, anchor=base west, inner sep=0pt] at (433,863) {C};
\node[font=\pl, anchor=base west, inner sep=0pt] at (593,863) {D};
\node[font=\pl, anchor=base west, inner sep=0pt] at (5,643) {E};
\node[font=\pl, anchor=base west, inner sep=0pt] at (203,643) {F};
\node[font=\pl, anchor=base west, inner sep=0pt] at (433,646) {G};
\node[font=\pl, anchor=base west, inner sep=0pt] at (593,646) {H};
\node[font=\pl, anchor=base west, inner sep=0pt] at (8,423) {I};
\node[font=\pl, anchor=base west, inner sep=0pt] at (203,423) {J};
\node[font=\pl, anchor=base west, inner sep=0pt] at (435,424) {K};
\node[font=\pl, anchor=base west, inner sep=0pt] at (593,424) {L};
\node[font=\pl, anchor=base west, inner sep=0pt] at (5,202) {M};
\node[font=\pl, anchor=base west, inner sep=0pt] at (203,201) {N};
\node[font=\pl, anchor=base west, inner sep=0pt] at (435,204) {O};
\node[font=\pl, anchor=base west, inner sep=0pt] at (593,204) {P};
\end{tikzpicture}
\end{document}
